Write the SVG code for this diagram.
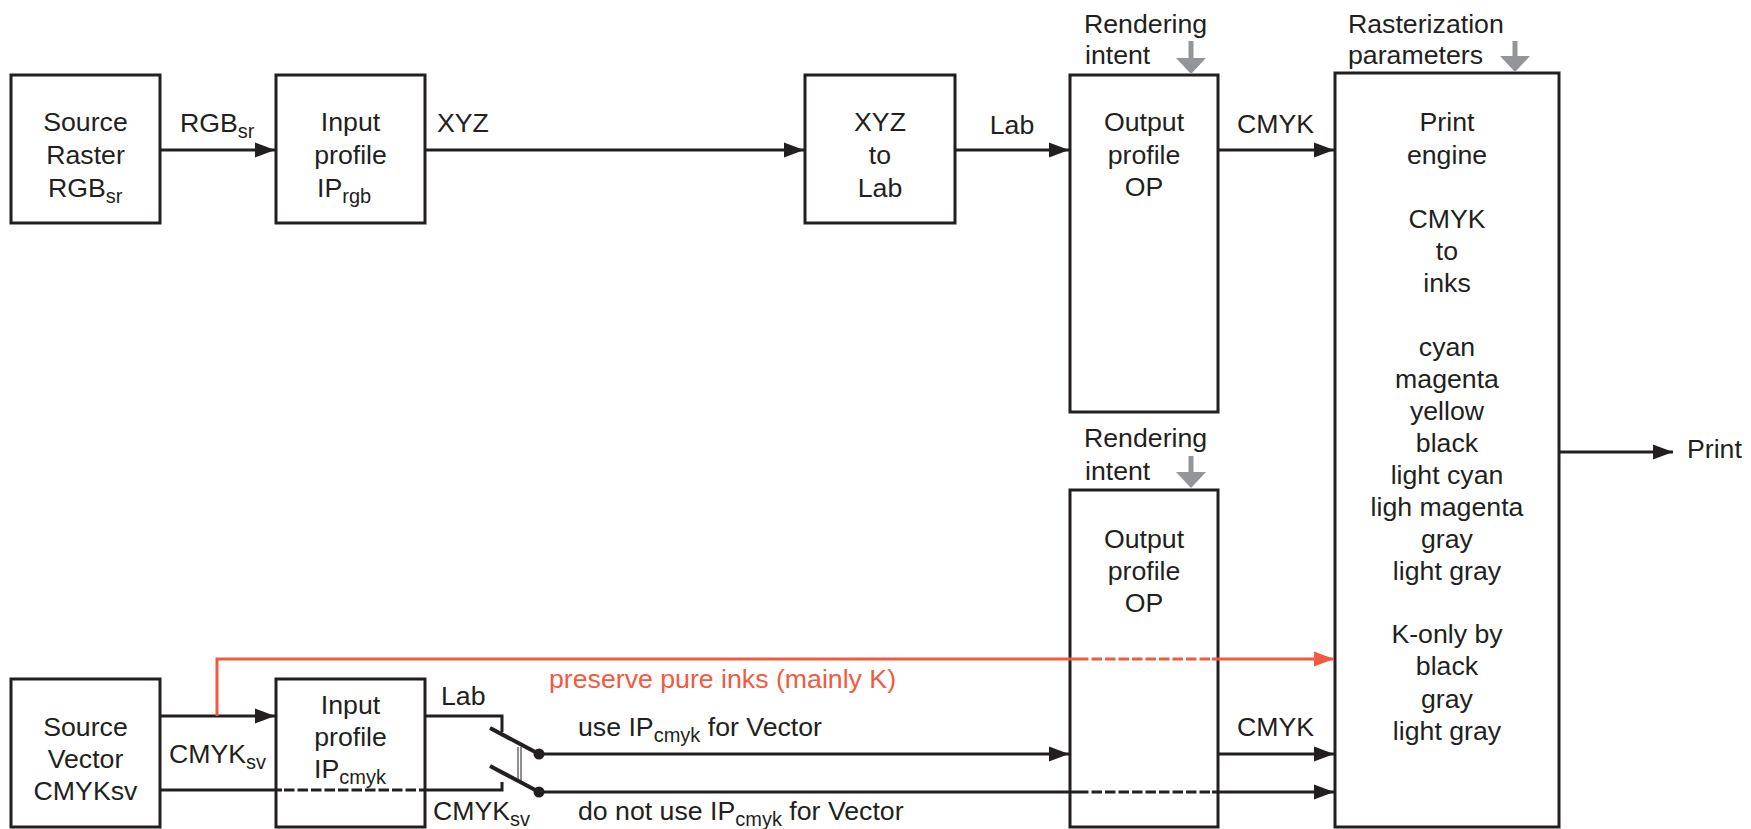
<svg xmlns="http://www.w3.org/2000/svg" width="1751" height="829" viewBox="0 0 1751 829">
<style>
text{font-family:"Liberation Sans",Arial,sans-serif;font-size:26.7px;fill:#231f20}
.m{text-anchor:middle}
.s{font-size:20px}
.b{fill:#fff;stroke:#231f20;stroke-width:3}
.l{fill:none;stroke:#231f20;stroke-width:3}
.d{stroke-dasharray:10.500 3}
.w{stroke-width:4}
.t{stroke-width:1}
.r{fill:none;stroke:#f15a40;stroke-width:3}
.g{fill:none;stroke:#939598;stroke-width:5}
.gh{fill:#939598}
</style>
<defs>
<marker id="a" markerUnits="userSpaceOnUse" markerWidth="21" markerHeight="16" refX="20" refY="8" orient="auto"><path d="M0 0.500L20 8L0 15.500z" fill="#231f20"/></marker>
<marker id="ar" markerUnits="userSpaceOnUse" markerWidth="21" markerHeight="16" refX="20" refY="8" orient="auto"><path d="M0 0.500L20 8L0 15.500z" fill="#f15a40"/></marker>
</defs>
<g id="n1"><rect class="b" x="11" y="75" width="149" height="148"/><text class="m" x="85.500" y="131">Source</text><text class="m" x="85.500" y="164">Raster</text><text x="48" y="197">RGB<tspan class="s" dy="6">sr</tspan></text></g>
<g id="n2"><rect class="b" x="276" y="75" width="149" height="148"/><text class="m" x="350.500" y="131">Input</text><text class="m" x="350.500" y="164">profile</text><text x="317" y="197">IP<tspan class="s" dy="6">rgb</tspan></text></g>
<g id="n3"><rect class="b" x="805" y="75" width="150" height="148"/><text class="m" x="880" y="131">XYZ</text><text class="m" x="880" y="164">to</text><text class="m" x="880" y="197">Lab</text></g>
<g id="n4"><rect class="b" x="1070" y="75" width="148" height="337"/><text class="m" x="1144" y="131">Output</text><text class="m" x="1144" y="164">profile</text><text class="m" x="1144" y="196">OP</text></g>
<g id="n5"><rect class="b" x="1070" y="490" width="148" height="337"/><text class="m" x="1144" y="548">Output</text><text class="m" x="1144" y="580">profile</text><text class="m" x="1144" y="612">OP</text></g>
<g id="n6"><rect class="b" x="1335" y="73" width="224" height="754"/>
<text class="m" x="1447" y="131">Print</text><text class="m" x="1447" y="164">engine</text><text class="m" x="1447" y="228">CMYK</text><text class="m" x="1447" y="260">to</text><text class="m" x="1447" y="292">inks</text><text class="m" x="1447" y="356">cyan</text><text class="m" x="1447" y="388">magenta</text><text class="m" x="1447" y="420">yellow</text><text class="m" x="1447" y="452">black</text><text class="m" x="1447" y="484">light cyan</text><text class="m" x="1447" y="516">ligh magenta</text><text class="m" x="1447" y="548">gray</text><text class="m" x="1447" y="580">light gray</text><text class="m" x="1447" y="643">K-only by</text><text class="m" x="1447" y="675">black</text><text class="m" x="1447" y="708">gray</text><text class="m" x="1447" y="740">light gray</text></g>
<g id="n7"><rect class="b" x="11" y="679" width="149" height="148"/><text class="m" x="85.500" y="736">Source</text><text class="m" x="85.500" y="768">Vector</text><text class="m" x="85.500" y="800">CMYKsv</text></g>
<g id="n8"><rect class="b" x="276" y="679" width="149" height="148"/><text class="m" x="350.500" y="714">Input</text><text class="m" x="350.500" y="746">profile</text><text x="314" y="778">IP<tspan class="s" dy="6">cmyk</tspan></text></g>
<g id="connectors">
<path class="l" marker-end="url(#a)" d="M160 150H275"/>
<path class="l" marker-end="url(#a)" d="M425 150H804"/>
<path class="l" marker-end="url(#a)" d="M955 150H1069"/>
<path class="l" marker-end="url(#a)" d="M1218 150H1334"/>
<path class="l" marker-end="url(#a)" d="M1559 452H1673"/>
<path class="l" marker-end="url(#a)" d="M160 716H275"/>
<path class="l" d="M160 790H282M425 790H502V782M425 716H502V732"/>
<path class="l d" d="M284 790H425"/>
<path class="l w" d="M490 728L539 754M490 766L539 792"/>
<circle cx="539" cy="754" r="5.500" fill="#231f20"/><circle cx="539" cy="792" r="5.500" fill="#231f20"/>
<path class="l t" d="M518 747V782M521 747V782"/>
<path class="l" marker-end="url(#a)" d="M539 754H1069"/>
<path class="l" d="M539 792H1078"/>
<path class="l d" d="M1078 792H1212"/>
<path class="l" marker-end="url(#a)" d="M1212 792H1334"/>
<path class="l" marker-end="url(#a)" d="M1218 754H1334"/>
<path class="r" d="M217 716V659H1078"/>
<path class="r d" d="M1078 659H1212"/>
<path class="r" marker-end="url(#ar)" d="M1212 659H1334"/>
<path class="g" d="M1191 41V60"/><path class="gh" d="M1176 58H1206L1191 74z"/>
<path class="g" d="M1515 41V58"/><path class="gh" d="M1500 56H1530L1515 72z"/>
<path class="g" d="M1191 456V474"/><path class="gh" d="M1176 472H1206L1191 488z"/>
</g>
<g id="labels">
<text x="180" y="132">RGB<tspan class="s" dy="6">sr</tspan></text>
<text x="437" y="132">XYZ</text>
<text class="m" x="1012" y="134">Lab</text>
<text x="1237" y="133">CMYK</text>
<text x="1084" y="33">Rendering</text><text x="1085" y="64">intent</text>
<text x="1348" y="33">Rasterization</text><text x="1348" y="64">parameters</text>
<text x="1084" y="447">Rendering</text><text x="1085" y="480">intent</text>
<text x="1687" y="458">Print</text>
<text x="549" y="688" style="fill:#f15a40">preserve pure inks (mainly K)</text>
<text x="169" y="763">CMYK<tspan class="s" dy="6">sv</tspan></text>
<text x="441" y="705">Lab</text>
<text x="433" y="820">CMYK<tspan class="s" dy="6">sv</tspan></text>
<text x="578" y="736">use IP<tspan class="s" dy="6">cmyk</tspan><tspan dy="-6"> for Vector</tspan></text>
<text x="578" y="820">do not use IP<tspan class="s" dy="6">cmyk</tspan><tspan dy="-6"> for Vector</tspan></text>
<text x="1237" y="736">CMYK</text>
</g>
</svg>
